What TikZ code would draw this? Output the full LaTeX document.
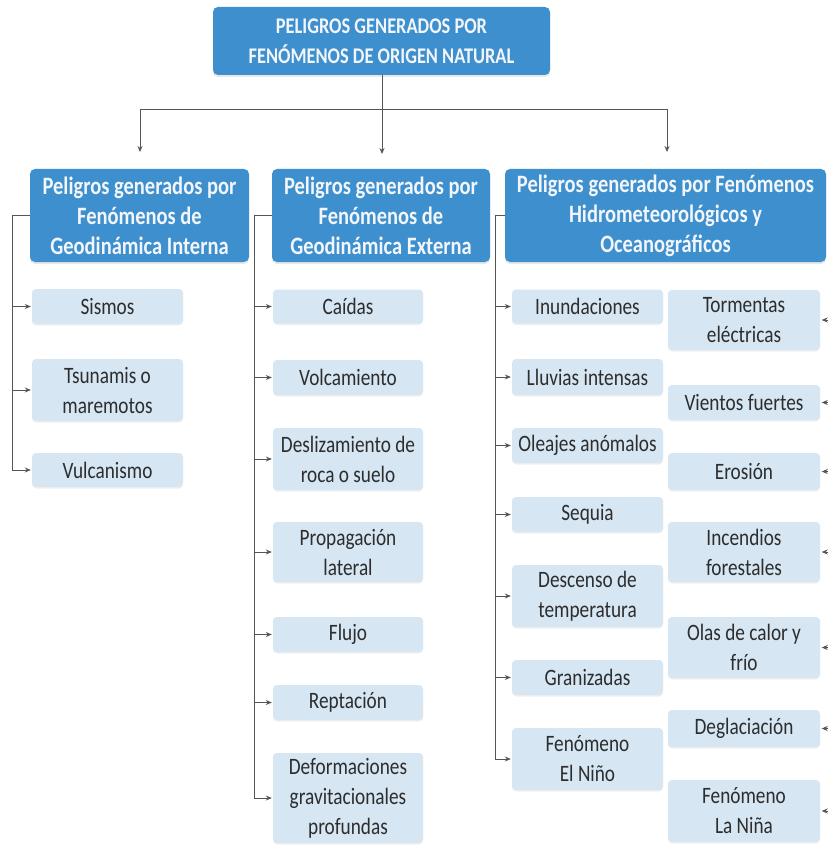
\documentclass[tikz,border=0pt]{standalone}
\usepackage{fontspec}
\setmainfont{Carlito}[FakeStretch=0.82]
\usetikzlibrary{arrows.meta,shadows}
\definecolor{dblue}{RGB}{62,143,206}
\definecolor{lblue}{RGB}{214,230,243}
\definecolor{ltext}{RGB}{45,45,45}
\definecolor{wtext}{RGB}{242,246,250}
\definecolor{lgray}{RGB}{85,85,85}
\tikzset{
  topbox/.style={fill=dblue, rounded corners=5pt, text=wtext, align=center,
    font=\bfseries\fontsize{22.4}{30}\selectfont, inner sep=0pt,
    drop shadow={shadow xshift=0pt, shadow yshift=-2pt, opacity=0.18, fill=gray}},
  grpbox/.style={fill=dblue, rounded corners=5pt, text=wtext, align=center,
    font=\bfseries\fontsize{25}{30}\selectfont, inner sep=0pt,
    drop shadow={shadow xshift=0pt, shadow yshift=-2pt, opacity=0.18, fill=gray}},
  leaf/.style={fill=lblue, rounded corners=4pt, text=ltext, align=center,
    font=\fontsize{23.5}{30}\selectfont, inner sep=0pt,
    drop shadow={shadow xshift=0pt, shadow yshift=-1.5pt, opacity=0.12, fill=gray}},
  arr/.style={draw=lgray, line width=0.9pt, -{Stealth[length=6pt,width=5pt]}},
  ln/.style={draw=lgray, line width=0.9pt},
}
\newcommand{\bx}[6]{\node[#1, minimum width=#4pt, minimum height=#5pt] (#2) at (#3) {#6};}
\begin{document}
\begin{tikzpicture}[x=1pt,y=-1pt]
\useasboundingbox[fill=white] (0,0) rectangle (828,845);
% top
\bx{topbox}{top}{381.5,41}{337}{68}{PELIGROS GENERADOS POR\\FENÓMENOS DE ORIGEN NATURAL}
% groups
\bx{grpbox}{g1}{139.5,215.5}{219}{93}{Peligros generados por\\Fenómenos de\\Geodinámica Interna}
\bx{grpbox}{g2}{381,215.5}{218}{93}{Peligros generados por\\Fenómenos de\\Geodinámica Externa}
\bx{grpbox}{g3}{665.5,215.5}{321}{93}{Peligros generados por Fenómenos\\Hidrometeorológicos y\\Oceanográficos}
% left leaves
\bx{leaf}{s1}{107.5,306.5}{151}{35}{Sismos}
\bx{leaf}{s2}{107.5,390}{151}{62}{Tsunamis o\\maremotos}
\bx{leaf}{s3}{107.5,470}{151}{34}{Vulcanismo}
% center leaves
\bx{leaf}{c1}{348,306.5}{150}{34}{Caídas}
\bx{leaf}{c2}{348,377.5}{150}{35}{Volcamiento}
\bx{leaf}{c3}{348,459}{150}{62}{Deslizamiento de\\roca o suelo}
\bx{leaf}{c4}{348,552}{150}{60}{Propagación\\lateral}
\bx{leaf}{c5}{348,634.5}{150}{35}{Flujo}
\bx{leaf}{c6}{348,702.5}{150}{35}{Reptación}
\bx{leaf}{c7}{348,798}{150}{90}{Deformaciones\\gravitacionales\\profundas}
% right, left sub-column
\bx{leaf}{h1}{587.5,306.5}{151}{34}{Inundaciones}
\bx{leaf}{h2}{587.5,377}{151}{36}{Lluvias intensas}
\bx{leaf}{h3}{587.5,445.5}{151}{35}{Oleajes anómalos}
\bx{leaf}{h4}{587.5,514.5}{151}{35}{Sequia}
\bx{leaf}{h5}{587.5,596}{151}{62}{Descenso de\\temperatura}
\bx{leaf}{h6}{587.5,677.5}{151}{35}{Granizadas}
\bx{leaf}{h7}{587.5,759}{151}{62}{Fenómeno\\El Niño}
% right, right sub-column
\bx{leaf}{r1}{744,320}{152}{60}{Tormentas\\eléctricas}
\bx{leaf}{r2}{744,402.5}{152}{35}{Vientos fuertes}
\bx{leaf}{r3}{744,471.5}{152}{37}{Erosión}
\bx{leaf}{r4}{744,552}{152}{60}{Incendios\\forestales}
\bx{leaf}{r5}{744,647.5}{152}{61}{Olas de calor y\\frío}
\bx{leaf}{r6}{744,728.5}{152}{37}{Deglaciación}
\bx{leaf}{r7}{744,811}{152}{62}{Fenómeno\\La Niña}
% top connectors
\coordinate (hl) at (140,109);
\coordinate (hr) at (667,109);
\coordinate (tl) at (140,152);
\coordinate (tc) at (382,154);
\coordinate (tr) at (667,152);
\draw[ln] (hl) -- (hr);
\draw[arr] (top.south -| tc) -- (tc);
\draw[arr] (hl) -- (tl);
\draw[arr] (hr) -- (tr);
% left bracket
\coordinate (b1) at (12,0);
\draw[ln] (g1.west) -- (b1 |- g1.west) -- (b1 |- s3.west);
\foreach \n in {s1,s2,s3} \draw[arr] (b1 |- \n.west) -- ([xshift=-1pt]\n.west);
% center bracket
\coordinate (b2) at (254,0);
\draw[ln] (g2.west) -- (b2 |- g2.west) -- (b2 |- c7.west);
\foreach \n in {c1,c2,c3,c4,c5,c6,c7} \draw[arr] (b2 |- \n.west) -- ([xshift=-1pt]\n.west);
% right bracket
\coordinate (b3) at (495,0);
\draw[ln] (g3.west) -- (b3 |- g3.west) -- (b3 |- h7.west);
\foreach \n in {h1,h2,h3,h4,h5,h6,h7} \draw[arr] (b3 |- \n.west) -- ([xshift=-1pt]\n.west);
% right-edge arrows
\coordinate (b4) at (828,0);
\foreach \n in {r1,r2,r3,r4,r5,r6,r7} \draw[arr] (b4 |- \n.east) -- ([xshift=1.5pt]\n.east);
\end{tikzpicture}
\end{document}
